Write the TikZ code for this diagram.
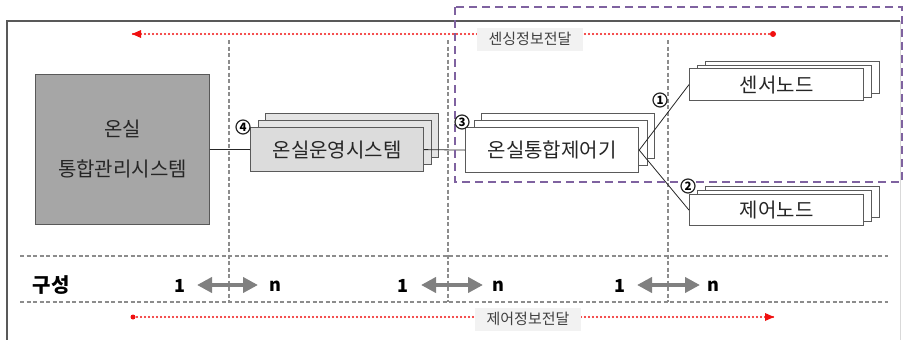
\documentclass[tikz,border=0pt]{standalone}
\usepackage{fontspec}
\setmainfont{Noto Sans CJK KR}
\usetikzlibrary{arrows.meta}
\definecolor{frameg}{HTML}{595959}
\definecolor{boxline}{HTML}{5A5A5A}
\definecolor{mgmtfill}{HTML}{A6A6A6}
\definecolor{opsfront}{HTML}{DCDCDC}
\definecolor{opsback}{HTML}{E4E4E4}
\definecolor{txt}{HTML}{262626}
\definecolor{lbltxt}{HTML}{404040}
\definecolor{lblbg}{HTML}{F2F2F2}
\definecolor{dashg}{HTML}{8C8C8C}
\definecolor{purp}{HTML}{7F62A0}
\definecolor{reddot}{HTML}{F01010}
\definecolor{arrg}{HTML}{808080}
\tikzset{
  sbox/.style={draw=boxline, line width=1.2pt, inner sep=0pt, anchor=north west,
    font=\fontsize{20}{24}\selectfont, text=txt},
  sepline/.style={draw=dashg, line width=1.1pt, dash pattern=on 4pt off 2.5pt},
  redline/.style={draw=reddot, line width=2.4pt, line cap=round, dash pattern=on 0pt off 4pt},
  lbl/.style={fill=lblbg, text=lbltxt, font=\fontsize{15}{17}\selectfont, minimum width=106pt, minimum height=23pt, inner sep=0pt},
  numcirc/.style={circle, draw=txt, line width=1.2pt, fill=white, inner sep=0pt, minimum size=14pt, font=\bfseries\fontsize{11.5}{12}\selectfont},
  dbl/.style={draw=arrg, line width=4.5pt, {Triangle[length=15pt,width=15pt]}-{Triangle[length=15pt,width=15pt]}},
  cnt/.style={font=\bfseries\fontsize{18}{20}\selectfont, text=black},
  conn/.style={draw=txt, line width=0.8pt}
}
\begin{document}
\begin{tikzpicture}[x=1pt,y=-1pt]
\useasboundingbox (0,0) rectangle (903,340);
\clip (0,0) rectangle (903,340);
% frame
\draw[frameg, line width=2pt] (7,345) -- (7,21) -- (900,21);
\draw[gray!30, line width=1pt] (900,21) -- (900,345);
% separators
\draw[sepline] (229,40) -- (229,302);
\draw[sepline] (448,40) -- (448,302);
\draw[sepline] (668,40) -- (668,302);
\draw[sepline] (20,256) -- (888,256);
\draw[sepline] (20,302) -- (888,302);
% red info flows
\coordinate (t1) at (133,34);
\coordinate (t2) at (773,34);
\coordinate (b1) at (133,317);
\coordinate (b2) at (773,317);
\draw[redline] (t1) -- (t2);
\fill[reddot] (t1) ++(-1,0) -- ++(9,-4) -- ++(0,8) -- cycle;
\fill[reddot] (t2) circle (3pt);
\draw[redline] (b1) -- (b2);
\fill[reddot] (b1) circle (2.5pt);
\fill[reddot] (b2) ++(1,0) -- ++(-9,-4) -- ++(0,8) -- cycle;
\node[lbl] (sense) at (530,39) {센싱정보전달};
\node[lbl] (ctrlinfo) at (528,319) {제어정보전달};
% management system
\node[sbox, fill=mgmtfill, draw=gray!70!black, line width=0.8pt, minimum width=174pt, minimum height=150pt, align=center,
  font=\fontsize{20}{40}\selectfont] (mgmt) at (35,74) {온실\\통합관리시스템};
% operating system stack
\node[sbox, fill=opsback, minimum width=173pt, minimum height=44pt] (ops3) at (265,113) {};
\node[sbox, fill=opsback, minimum width=173pt, minimum height=44pt] (ops2) at (257.5,120) {};
\node[sbox, fill=opsfront, minimum width=173pt, minimum height=44pt] (ops) at (250,127) {온실운영시스템};
% controller stack
\node[sbox, fill=white, minimum width=173pt, minimum height=45pt] (ctrl3) at (481,113) {};
\node[sbox, fill=white, minimum width=173pt, minimum height=45pt] (ctrl2) at (474,120) {};
\node[sbox, fill=white, minimum width=173pt, minimum height=45pt] (ctrl) at (465,127) {온실통합제어기};
% sensor stack
\node[sbox, fill=white, minimum width=174pt, minimum height=32pt] (sen3) at (705,61) {};
\node[sbox, fill=white, minimum width=174pt, minimum height=32pt] (sen2) at (697,64.5) {};
\node[sbox, fill=white, minimum width=174pt, minimum height=32pt] (sen) at (689,68) {센서노드};
% actuator stack
\node[sbox, fill=white, minimum width=174pt, minimum height=31pt] (act3) at (705,186) {};
\node[sbox, fill=white, minimum width=174pt, minimum height=31pt] (act2) at (697,190) {};
\node[sbox, fill=white, minimum width=174pt, minimum height=31pt] (act) at (689,194) {제어노드};
% connectors
\draw[conn] (mgmt.east) -- (ops.west);
\draw[conn] (ops.east) -- (ctrl.west);
\draw[conn] (ctrl.east) -- (sen.west);
\draw[conn] (ctrl.east) -- (act.west);
% purple group
\draw[purp, line width=2.2pt, dash pattern=on 8pt off 5pt] (455,7) rectangle (902,182);
% numbers
\node[numcirc] (n4) at (243,127) {4};
\node[numcirc] (n3) at (462,122) {3};
\node[numcirc] (n1) at (660,100) {1};
\node[numcirc] (n2) at (688,186) {2};
% composition row
\node[font=\bfseries\fontsize{20}{24}\selectfont, text=black] (comp) at (51,285) {구성};
\node[cnt] (o1) at (180,286) {1};
\node[cnt] (m1) at (275,286) {n};
\node[cnt] (o2) at (403,286) {1};
\node[cnt] (m2) at (498,286) {n};
\node[cnt] (o3) at (620,286) {1};
\node[cnt] (m3) at (713,286) {n};
\coordinate (a1s) at (197,285); \coordinate (a1e) at (258,285);
\coordinate (a2s) at (421,285); \coordinate (a2e) at (483,285);
\coordinate (a3s) at (637,285); \coordinate (a3e) at (700,285);
\draw[dbl] (a1s) -- (a1e);
\draw[dbl] (a2s) -- (a2e);
\draw[dbl] (a3s) -- (a3e);
\end{tikzpicture}
\end{document}
